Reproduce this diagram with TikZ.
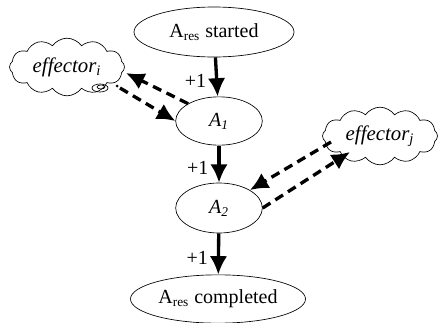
\documentclass[tikz,border=0pt]{standalone}
\usepackage{fontspec}
\setmainfont{Liberation Serif}
\usetikzlibrary{shapes, shapes.symbols, arrows.meta}

\tikzset{
	state/.style={draw, ellipse, inner sep=0pt, font=\fontsize{12}{14}\selectfont},
	thought/.style={draw, cloud, cloud puffs=12, cloud puff arc=110, aspect=2.1,
		inner sep=0pt, font=\fontsize{12.5}{14}\selectfont},
	flow/.style={-{Latex[length=11pt, width=10.5pt]}, line width=2pt},
	effect/.style={-{Latex[length=11pt, width=10.5pt]}, line width=2pt,
		dash pattern=on 5.5pt off 3.5pt},
	step label/.style={font=\fontsize{12}{14}\selectfont}
}

\begin{document}
\begin{tikzpicture}[x=0.6pt, y=-0.6pt]
	\useasboundingbox (0,0) rectangle (438,322);

	\node[state, minimum width=96pt, minimum height=30pt] (started) at (214,32)
		{A\textsubscript{res} started};
	\node[state, minimum width=52pt, minimum height=29pt] (first) at (219,121)
		{\textit{A}\textsubscript{\itshape 1}};
	\node[state, minimum width=52pt, minimum height=30pt] (second) at (219,208)
		{\textit{A}\textsubscript{\itshape 2}};
	\node[state, minimum width=105pt, minimum height=29pt] (completed) at (218,299)
		{A\textsubscript{res} completed};

	\node[thought, minimum width=69pt, minimum height=31pt] (effi) at (67,67)
		{\textit{effector}\textsubscript{\itshape i}};
	\node[thought, minimum width=69pt, minimum height=33pt] (effj) at (380,136)
		{\textit{effector}\textsubscript{\itshape j}};

	\draw[thin] (100,88) ellipse (8 and 4);
	\draw[thin] (101,87) ellipse (4 and 2);
	\fill (117,86) circle (1.5);

	\coordinate (effiout) at (120,88);
	\coordinate (effiin)  at (126,73);
	\coordinate (effjout) at (331,142);
	\coordinate (effjin)  at (350,152);

	\draw[flow] (started) -- (first) node[step label, pos=0.6, left=2pt] {+1};
	\draw[flow] (first) -- (second) node[step label, pos=0.6, left=2pt] {+1};
	\draw[flow] (second) -- (completed) node[step label, pos=0.6, left=2pt] {+1};

	\draw[effect] (effiout) -- (first.west);
	\draw[effect] (first.north west) -- (effiin);
	\draw[effect] (effjout) -- (second.north east);
	\draw[effect] (second.east) -- (effjin);
\end{tikzpicture}
\end{document}
